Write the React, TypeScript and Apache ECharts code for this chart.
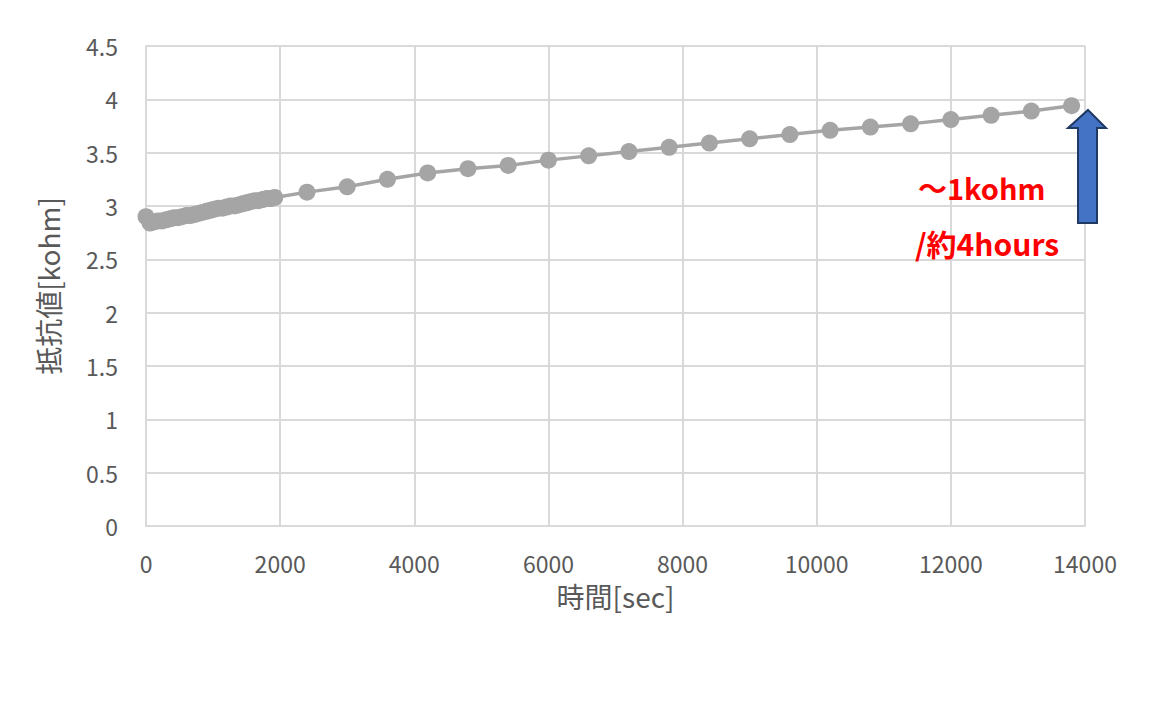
import React, { useEffect, useRef } from "react";
import * as echarts from "echarts";

const timeSec: number[] = [
  0, 60, 120, 180, 240, 300, 360, 420, 480, 540, 600, 660, 720, 780, 840, 900,
  960, 1020, 1080, 1140, 1200, 1260, 1320, 1380, 1440, 1500, 1560, 1620, 1680,
  1740, 1800, 1860, 1920,
  2400, 3000, 3600, 4200, 4800, 5400, 6000, 6600, 7200, 7800, 8400, 9000, 9600,
  10200, 10800, 11400, 12000, 12600, 13200, 13800,
];
const resistanceKohm: number[] = [
  2.9, 2.84, 2.85, 2.86, 2.86, 2.87, 2.88, 2.89, 2.89, 2.9, 2.91, 2.91, 2.92,
  2.93, 2.94, 2.95, 2.96, 2.97, 2.98, 2.98, 2.99, 3.0, 3.0, 3.01, 3.02, 3.03,
  3.04, 3.05, 3.05, 3.06, 3.07, 3.07, 3.08,
  3.13, 3.18, 3.25, 3.31, 3.35, 3.38, 3.43, 3.47, 3.51, 3.55, 3.59, 3.63, 3.67,
  3.71, 3.74, 3.77, 3.81, 3.85, 3.89, 3.94,
];

const xAxisTitle = "時間[sec]";
const yAxisTitle = "抵抗値[kohm]";
const noteLine1 = "～1kohm";
const noteLine2 = "/約4hours";

const FONT = "'Noto Sans CJK JP', 'Noto Sans', sans-serif";

export default function App() {
  const ref = useRef<HTMLDivElement>(null);
  useEffect(() => {
    if (!ref.current) return;
    const chart = echarts.init(ref.current, undefined, { renderer: "svg" });
    const data = timeSec.map((t, i) => [t, resistanceKohm[i]]);
    chart.setOption({
      animation: false,
      backgroundColor: "#ffffff",
      grid: { left: 146, right: 89, top: 46, bottom: 194, containLabel: false },
      xAxis: {
        type: "value",
        min: 0,
        max: 14000,
        interval: 2000,
        name: xAxisTitle,
        nameLocation: "middle",
        nameGap: 56,
        nameTextStyle: { fontSize: 28, color: "#595959", fontFamily: FONT },
        axisLine: { show: true, lineStyle: { color: "#d9d9d9", width: 2 } },
        axisTick: { show: false },
        axisLabel: {
          fontSize: 23,
          color: "#595959",
          margin: 25,
          fontFamily: FONT,
          formatter: (v: number) => String(v),
        },
        splitLine: { show: true, lineStyle: { color: "#d9d9d9", width: 2 } },
      },
      yAxis: {
        type: "value",
        min: 0,
        max: 4.5,
        interval: 0.5,
        name: yAxisTitle,
        nameLocation: "middle",
        nameGap: 84,
        nameTextStyle: { fontSize: 28, color: "#595959", fontFamily: FONT },
        axisLine: { show: true, lineStyle: { color: "#d9d9d9", width: 2 } },
        axisTick: { show: false },
        axisLabel: {
          fontSize: 23,
          color: "#595959",
          margin: 28,
          fontFamily: FONT,
          formatter: (v: number) => String(v),
        },
        splitLine: { show: true, lineStyle: { color: "#d9d9d9", width: 2 } },
      },
      series: [
        {
          type: "line",
          data,
          symbol: "circle",
          symbolSize: 17,
          itemStyle: { color: "#a5a5a5" },
          lineStyle: { color: "#a5a5a5", width: 3.5 },
        },
      ],
      graphic: [
        {
          type: "polygon",
          shape: {
            points: [
              [1088, 110],
              [1106, 128],
              [1097, 128],
              [1097, 223],
              [1078, 223],
              [1078, 128],
              [1068, 128],
            ],
          },
          style: { fill: "#4472c4", stroke: "#1f3864", lineWidth: 2 },
          z: 100,
        },
        {
          type: "text",
          x: 918,
          y: 187,
          style: {
            text: noteLine1,
            fill: "#ff0000",
            font: `bold 29px ${FONT}`,
            verticalAlign: "middle",
          },
          z: 100,
        },
        {
          type: "text",
          x: 915,
          y: 243,
          style: {
            text: noteLine2,
            fill: "#ff0000",
            font: `bold 30px ${FONT}`,
            verticalAlign: "middle",
          },
          z: 100,
        },
      ],
    });
    return () => chart.dispose();
  }, []);
  return <div ref={ref} style={{ width: 1174, height: 720, margin: -8 }} />;
}
